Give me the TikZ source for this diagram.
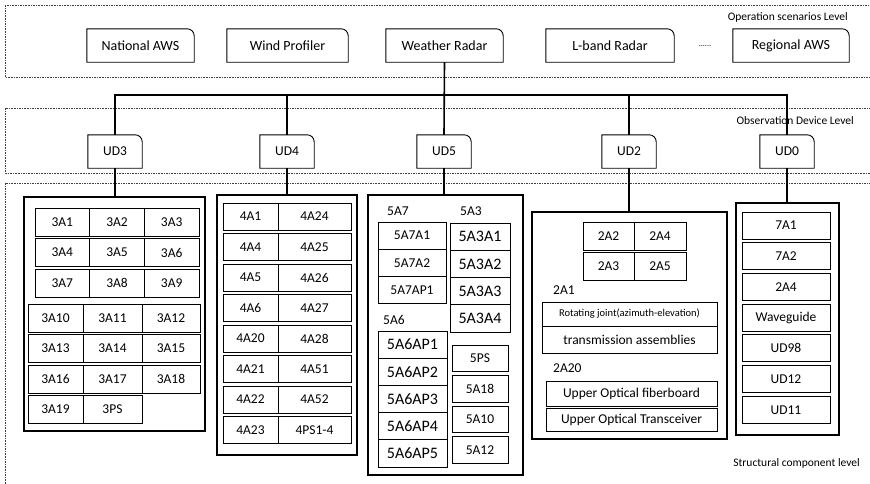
\documentclass[tikz,border=0pt]{standalone}
\usepackage{fontspec}
\setmainfont{Carlito}
\usepackage{xcolor}
\definecolor{levelGray}{HTML}{404040}
\usetikzlibrary{positioning}

\begin{document}
\begin{tikzpicture}[
    x=1pt, y=1pt,
    lvlframe/.style={draw=levelGray, line width=0.7pt, dash pattern=on 1.6pt off 1pt},
    lvltag/.style={inner sep=0pt, anchor=east, font=\fontsize{11.5}{13}\selectfont},
    topbox/.style={rectangle, inner sep=0pt, minimum height=33pt, font=\fontsize{14}{16}\selectfont},
    udbox/.style={rectangle, inner sep=0pt, minimum width=54pt, minimum height=33pt, font=\fontsize{13.5}{16}\selectfont},
    grpbox/.style={draw, line width=1.6pt, rectangle, inner sep=0pt},
    cell/.style={draw, line width=0.8pt, rectangle, inner sep=0pt, outer sep=0pt, minimum height=28pt, font=\fontsize{13.5}{16}\selectfont},
    bigcell/.style={cell, font=\fontsize{16}{18}\selectfont},
    tag/.style={inner sep=0pt, anchor=west, font=\fontsize{13.5}{16}\selectfont},
    link/.style={line width=1.6pt}
]
\clip (0,0) rectangle (870,-483);
\fill[white] (0,0) rectangle (870,-483);

% three levels
\draw[lvlframe] (5,-5) rectangle (880,-77);
\draw[lvlframe] (5,-108) rectangle (880,-173);
\draw[lvlframe] (5,-183) rectangle (880,-495);
\node[lvltag] (opslvl) at (848,-17) {Operation scenarios Level};
\node[lvltag] (obslvl) at (854,-121) {Observation Device Level};
\node[lvltag] (strlvl) at (860,-463) {Structural component level};

% operation scenarios
\node[topbox, minimum width=107pt] (nat) at (140.5,-45.5) {National AWS};
\node[topbox, minimum width=121pt] (wind) at (287.5,-45.5) {Wind Profiler};
\node[topbox, minimum width=117pt] (radar) at (444.5,-45.5) {Weather Radar};
\node[topbox, minimum width=128pt] (lband) at (610,-45.5) {L-band Radar};
\node[inner sep=0pt, font=\fontsize{8}{9}\selectfont] (more) at (705,-46) {......};
\node[topbox, minimum width=116pt] (regional) at (791,-45.5) {Regional AWS};

% observation devices
\node[udbox] (ud3) at (115,-151.5) {UD3};
\node[udbox] (ud4) at (287,-151.5) {UD4};
\node[udbox] (ud5) at (444,-151.5) {UD5};
\node[udbox] (ud2) at (629,-151.5) {UD2};
\node[udbox] (ud0) at (787,-151.5) {UD0};

\foreach \n in {nat,wind,radar,lband,regional,ud3,ud4,ud5,ud2,ud0}
  \draw[line width=0.9pt] (\n.south west) -- (\n.north west) -- ([xshift=-7pt]\n.north east)
    arc[start angle=90, end angle=0, radius=7pt] -- (\n.south east) -- cycle;

% structural components
\node[grpbox, minimum width=181pt, minimum height=234pt] (g3) at (114.5,-314) {};
\node[grpbox, minimum width=140pt, minimum height=260pt] (g4) at (287,-325) {};
\node[grpbox, minimum width=155pt, minimum height=280pt] (g5) at (445.5,-335) {};
\node[grpbox, minimum width=195pt, minimum height=227pt] (g2) at (629.5,-325.5) {};
\node[grpbox, minimum width=103pt, minimum height=232pt] (g0) at (787.5,-319) {};

% UD3
\node[cell, minimum width=54.7pt] (c3a1) at (62.3,-222) {3A1};
\node[cell, minimum width=54.7pt, right=0pt of c3a1] (c3a2) {3A2};
\node[cell, minimum width=54.7pt, right=0pt of c3a2] (c3a3) {3A3};
\node[cell, minimum width=54.7pt, below=2.5pt of c3a1] (c3a4) {3A4};
\node[cell, minimum width=54.7pt, right=0pt of c3a4] (c3a5) {3A5};
\node[cell, minimum width=54.7pt, right=0pt of c3a5] (c3a6) {3A6};
\node[cell, minimum width=54.7pt, below=2.5pt of c3a4] (c3a7) {3A7};
\node[cell, minimum width=54.7pt, right=0pt of c3a7] (c3a8) {3A8};
\node[cell, minimum width=54.7pt, right=0pt of c3a8] (c3a9) {3A9};
\node[cell, minimum width=55pt] (c3a10) at (55.5,-318) {3A10};
\node[cell, minimum width=59pt, right=0pt of c3a10] (c3a11) {3A11};
\node[cell, minimum width=58pt, right=0pt of c3a11] (c3a12) {3A12};
\node[cell, minimum width=55pt, below=2.5pt of c3a10] (c3a13) {3A13};
\node[cell, minimum width=59pt, right=0pt of c3a13] (c3a14) {3A14};
\node[cell, minimum width=58pt, right=0pt of c3a14] (c3a15) {3A15};
\node[cell, minimum width=55pt, below=2.5pt of c3a13] (c3a16) {3A16};
\node[cell, minimum width=59pt, right=0pt of c3a16] (c3a17) {3A17};
\node[cell, minimum width=58pt, right=0pt of c3a17] (c3a18) {3A18};
\node[cell, minimum width=55pt, below=2.5pt of c3a16] (c3a19) {3A19};
\node[cell, minimum width=59pt, right=0pt of c3a19] (c3ps) {3PS};

% UD4
\node[cell, minimum width=55pt, minimum height=27pt] (c4a1) at (250.5,-216.5) {4A1};
\node[cell, minimum width=73pt, minimum height=27pt, right=0pt of c4a1] (c4a24) {4A24};
\node[cell, minimum width=55pt, minimum height=27pt, below=3.5pt of c4a1] (c4a4) {4A4};
\node[cell, minimum width=73pt, minimum height=27pt, right=0pt of c4a4] (c4a25) {4A25};
\node[cell, minimum width=55pt, minimum height=27pt, below=3.5pt of c4a4] (c4a5) {4A5};
\node[cell, minimum width=73pt, minimum height=27pt, right=0pt of c4a5] (c4a26) {4A26};
\node[cell, minimum width=55pt, minimum height=27pt, below=3.5pt of c4a5] (c4a6) {4A6};
\node[cell, minimum width=73pt, minimum height=27pt, right=0pt of c4a6] (c4a27) {4A27};
\node[cell, minimum width=55pt, minimum height=27pt, below=3.5pt of c4a6] (c4a20) {4A20};
\node[cell, minimum width=73pt, minimum height=27pt, right=0pt of c4a20] (c4a28) {4A28};
\node[cell, minimum width=55pt, minimum height=27pt, below=3.5pt of c4a20] (c4a21) {4A21};
\node[cell, minimum width=73pt, minimum height=27pt, right=0pt of c4a21] (c4a51) {4A51};
\node[cell, minimum width=55pt, minimum height=27pt, below=3.5pt of c4a21] (c4a22) {4A22};
\node[cell, minimum width=73pt, minimum height=27pt, right=0pt of c4a22] (c4a52) {4A52};
\node[cell, minimum width=55pt, minimum height=27pt, below=3.5pt of c4a22] (c4a23) {4A23};
\node[cell, minimum width=73pt, minimum height=27pt, right=0pt of c4a23] (c4ps) {4PS1-4};

% UD5
\node[tag] (t5a7) at (387,-211) {5A7};
\node[tag] (t5a3) at (460,-211) {5A3};
\node[cell, minimum width=68pt, minimum height=27.3pt] (c5a7a1) at (412,-235.6) {5A7A1};
\node[cell, minimum width=68pt, minimum height=27.3pt, below=0pt of c5a7a1] (c5a7a2) {5A7A2};
\node[cell, minimum width=68pt, minimum height=27.3pt, below=0pt of c5a7a2] (c5a7ap1) {5A7AP1};
\node[bigcell, minimum width=60pt, minimum height=27.3pt] (c5a3a1) at (480,-236.6) {5A3A1};
\node[bigcell, minimum width=60pt, minimum height=27.3pt, below=0pt of c5a3a1] (c5a3a2) {5A3A2};
\node[bigcell, minimum width=60pt, minimum height=27.3pt, below=0pt of c5a3a2] (c5a3a3) {5A3A3};
\node[bigcell, minimum width=60pt, minimum height=27.3pt, below=0pt of c5a3a3] (c5a3a4) {5A3A4};
\node[tag] (t5a6) at (383,-320) {5A6};
\node[bigcell, minimum width=69pt, minimum height=27.2pt] (c5a6ap1) at (412.5,-344.6) {5A6AP1};
\node[bigcell, minimum width=69pt, minimum height=27.2pt, below=0pt of c5a6ap1] (c5a6ap2) {5A6AP2};
\node[bigcell, minimum width=69pt, minimum height=27.2pt, below=0pt of c5a6ap2] (c5a6ap3) {5A6AP3};
\node[bigcell, minimum width=69pt, minimum height=27.2pt, below=0pt of c5a6ap3] (c5a6ap4) {5A6AP4};
\node[bigcell, minimum width=69pt, minimum height=27.2pt, below=0pt of c5a6ap4] (c5a6ap5) {5A6AP5};
\node[cell, minimum width=56pt, minimum height=26.5pt] (c5ps) at (480,-358.5) {5PS};
\node[cell, minimum width=56pt, minimum height=26.5pt, below=4pt of c5ps] (c5a18) {5A18};
\node[cell, minimum width=56pt, minimum height=26.5pt, below=4pt of c5a18] (c5a10) {5A10};
\node[cell, minimum width=56pt, minimum height=26.5pt, below=4pt of c5a10] (c5a12) {5A12};

% UD2
\node[cell, minimum width=51pt, minimum height=28.5pt] (c2a2) at (608.5,-236.25) {2A2};
\node[cell, minimum width=52pt, minimum height=28.5pt, right=0pt of c2a2] (c2a4) {2A4};
\node[cell, minimum width=51pt, minimum height=28.5pt, below=1.5pt of c2a2] (c2a3) {2A3};
\node[cell, minimum width=52pt, minimum height=28.5pt, right=0pt of c2a3] (c2a5) {2A5};
\node[tag] (t2a1) at (553,-290) {2A1};
\node[cell, minimum width=175pt, minimum height=24pt, font=\fontsize{10.5}{12}\selectfont] (c2rot) at (629.5,-314) {Rotating joint(azimuth-elevation)};
\node[cell, minimum width=175pt, minimum height=27pt, below=0pt of c2rot] (c2trans) {transmission assemblies};
\node[tag] (t2a20) at (553,-368) {2A20};
\node[cell, minimum width=171pt, minimum height=25pt] (c2fib) at (631.5,-393.5) {Upper Optical fiberboard};
\node[cell, minimum width=171pt, minimum height=23pt, below=2pt of c2fib] (c2trx) {Upper Optical Transceiver};

% UD0
\node[cell, minimum width=88pt, minimum height=27pt] (c0a1) at (786,-225.5) {7A1};
\node[cell, minimum width=88pt, minimum height=27pt, below=3.7pt of c0a1] (c0a2) {7A2};
\node[cell, minimum width=88pt, minimum height=27pt, below=3.7pt of c0a2] (c0a3) {2A4};
\node[cell, minimum width=88pt, minimum height=27pt, below=3.7pt of c0a3] (c0wg) {Waveguide};
\node[cell, minimum width=88pt, minimum height=27pt, below=3.7pt of c0wg] (c0ud98) {UD98};
\node[cell, minimum width=88pt, minimum height=27pt, below=3.7pt of c0ud98] (c0ud12) {UD12};
\node[cell, minimum width=88pt, minimum height=27pt, below=3.7pt of c0ud12] (c0ud11) {UD11};

% connectors
\coordinate (bus) at (444,-95);
\draw[link] (radar.south) -- (ud5.north);
\draw[link] (ud3.north) -- (ud3.north |- bus) -- (ud0.north |- bus) -- (ud0.north);
\draw[link] (ud4.north) -- (ud4.north |- bus);
\draw[link] (ud2.north) -- (ud2.north |- bus);
\draw[link] (ud3.south) -- (ud3.south |- g3.north);
\draw[link] (ud4.south) -- (ud4.south |- g4.north);
\draw[link] (ud5.south) -- (ud5.south |- g5.north);
\draw[link] (ud2.south) -- (ud2.south |- g2.north);
\draw[link] (ud0.south) -- (ud0.south |- g0.north);
\end{tikzpicture}
\end{document}
